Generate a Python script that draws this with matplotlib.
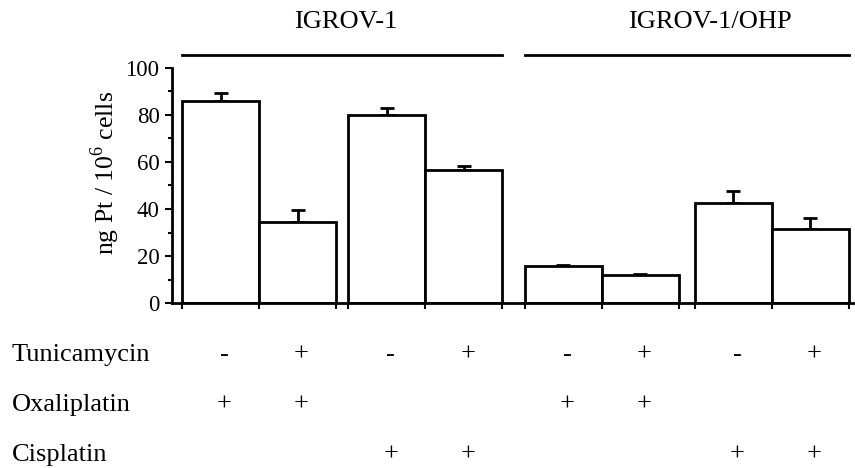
import matplotlib
matplotlib.use("Agg")
import matplotlib.pyplot as plt
import numpy as np
from matplotlib.ticker import MultipleLocator

plt.rcParams['font.family'] = ['Liberation Serif', 'DejaVu Serif']
plt.rcParams['mathtext.fontset'] = 'custom'
plt.rcParams['mathtext.rm'] = 'Liberation Serif'

# Data
conditions = ["IGROV-1 Oxa -Tun", "IGROV-1 Oxa +Tun", "IGROV-1 Cis -Tun", "IGROV-1 Cis +Tun",
              "OHP Oxa -Tun", "OHP Oxa +Tun", "OHP Cis -Tun", "OHP Cis +Tun"]
pt_values = [86, 34.5, 80, 56.5, 15.7, 11.9, 42.5, 31.5]
pt_errors = [3.5, 5, 3, 2, 0.6, 0.5, 5, 4.7]
cell_lines = ["IGROV-1", "IGROV-1/OHP"]
row_labels = ["Tunicamycin", "Oxaliplatin", "Cisplatin"]
tunicamycin = ["-", "+", "-", "+", "-", "+", "-", "+"]
oxaliplatin = ["+", "+", "", "", "+", "+", "", ""]
cisplatin = ["", "", "+", "+", "", "", "+", "+"]
y_ticks = [0, 20, 40, 60, 80, 100]

# Layout
W, H = 855, 468
fig = plt.figure(figsize=(W / 100, H / 100), dpi=100)
ax_left, ax_right, ax_bottom, ax_top = 172, 855, 303, 68
ax = fig.add_axes([ax_left / W, 1 - ax_bottom / H, (ax_right - ax_left) / W, (ax_bottom - ax_top) / H])

bar_lefts = [0.13, 1.13, 2.29, 3.29, 4.58, 5.58, 6.79, 7.79]
bw = 1.0
ax.bar(bar_lefts, pt_values, width=bw, align='edge', color='white', edgecolor='black',
       linewidth=2, zorder=2)
centers = [l + bw / 2 for l in bar_lefts]
ax.errorbar(centers, pt_values, yerr=[np.zeros(len(pt_errors)), pt_errors], fmt='none',
            ecolor='black', elinewidth=2, capsize=5, capthick=2, zorder=1)

ax.set_xlim(0, (ax_right - ax_left) / 77)
ax.set_ylim(0, 100)
ax.set_yticks(y_ticks)
ax.yaxis.set_minor_locator(MultipleLocator(10))
edges = sorted(set([l for l in bar_lefts] + [l + bw for l in bar_lefts]))
ax.set_xticks(edges)
ax.set_xticklabels([])
ax.tick_params(axis='x', direction='out', length=4, width=1.5)
ax.tick_params(axis='y', which='major', direction='out', length=5, width=1.5, labelsize=16.5, pad=4)
ax.tick_params(axis='y', which='minor', direction='out', length=3, width=1.5)
for s in ['top', 'right']:
    ax.spines[s].set_visible(False)
for s in ['left', 'bottom']:
    ax.spines[s].set_linewidth(2)
ax.spines['left'].set_bounds(0, 100)

ax.set_ylabel(r"ng Pt / 10$^{6}$ cells", fontsize=18.5, labelpad=6)
ax.yaxis.set_label_coords(-105 / (ax_right - ax_left) * 0 + (105 - ax_left) / (ax_right - ax_left),
                          (ax_bottom - 173) / (ax_bottom - ax_top))
ax.yaxis.label.set_va('center')

# Group lines and titles
ytrans = ax.get_xaxis_transform()
groups = [(bar_lefts[0], bar_lefts[3] + bw), (bar_lefts[4], bar_lefts[7] + bw)]
title_x_px = [346, 710]
for (x0, x1), name, tx in zip(groups, cell_lines, title_x_px):
    ax.plot([x0, x1], [(ax_bottom - 55) / (ax_bottom - ax_top)] * 2, color='black', lw=2,
            transform=ytrans, clip_on=False)
    fig.text(tx / W, 1 - 22 / H, name, ha='center', va='center', fontsize=19)

# Condition table
rows = [tunicamycin, oxaliplatin, cisplatin]
row_y = [355, 405, 455]
for label, vals, yp in zip(row_labels, rows, row_y):
    fig.text(12 / W, 1 - yp / H, label, ha='left', va='center', fontsize=19)
    for c, v in zip(centers, vals):
        if v:
            ax.text(c + 0.05, (ax_bottom - yp) / (ax_bottom - ax_top), v, transform=ytrans,
                    ha='center', va='center', fontsize=19)

fig.savefig("out.png", dpi=100)
